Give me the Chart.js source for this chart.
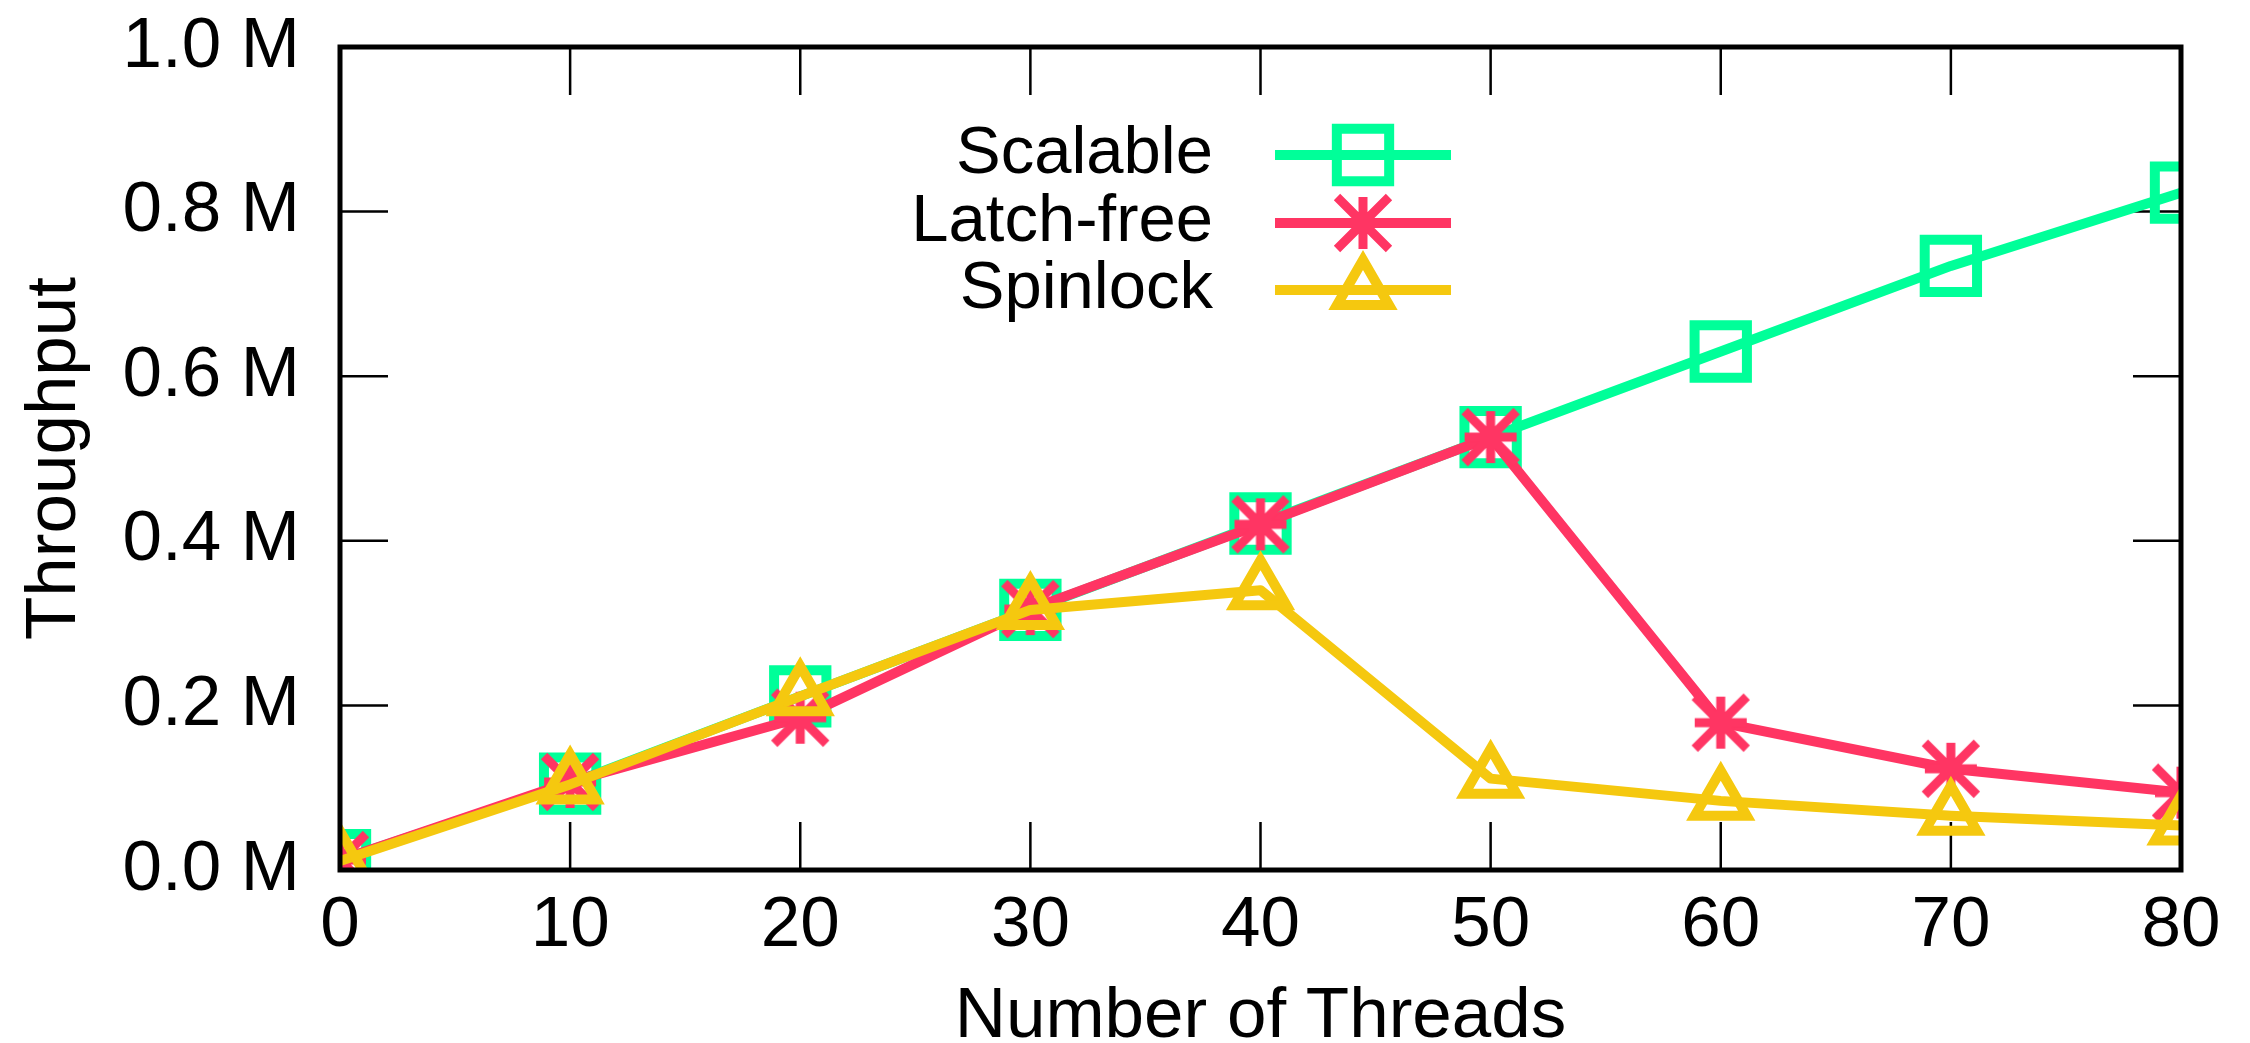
<!DOCTYPE html>
<html>
<head>
<meta charset="utf-8">
<title>Throughput vs threads</title>
<script src="https://cdn.jsdelivr.net/npm/chart.js@4.4.0/dist/chart.umd.min.js"></script>
<style>
  html, body { margin: 0; padding: 0; background: #fff; }
  canvas { display: block; }
</style>
</head>
<body>
<canvas id="throughputChart" width="2250" height="1043"></canvas>
<script>
const threads = [0, 10, 20, 30, 40, 50, 60, 70, 80];
const scalable = [0.012, 0.105, 0.211, 0.316, 0.421, 0.526, 0.630, 0.734, 0.823];
const latchFree = [0.012, 0.107, 0.185, 0.317, 0.420, 0.526, 0.179, 0.123, 0.094];
const spinlock = [0.011, 0.104, 0.211, 0.316, 0.340, 0.111, 0.084, 0.066, 0.054];

const xTicks = [0, 10, 20, 30, 40, 50, 60, 70, 80];
const yTicks = [0, 0.2, 0.4, 0.6, 0.8, 1.0];

const seriesNames = ['Scalable', 'Latch-free', 'Spinlock'];
const seriesColors = ['#00ff99', '#ff3563', '#f5c80f'];

const FONT = '"Liberation Sans", Arial, Helvetica, sans-serif';

// gnuplot style asterisk (+ and x on top of each other)
function makeAsterisk(color, half, lw) {
    const size = Math.ceil(2 * half + 2 * lw);
    const c = document.createElement('canvas');
    c.width = size;
    c.height = size;
    const g = c.getContext('2d');
    const m = size / 2;
    g.strokeStyle = color;
    g.lineWidth = lw;
    g.lineCap = 'butt';
    g.beginPath();
    g.moveTo(m, m - half); g.lineTo(m, m + half);
    g.moveTo(m - half, m); g.lineTo(m + half, m);
    g.moveTo(m - half, m - half); g.lineTo(m + half, m + half);
    g.moveTo(m - half, m + half); g.lineTo(m + half, m - half);
    g.stroke();
    return c;
}

const asterisk = makeAsterisk(seriesColors[1], 26, 9);

function toPoints(values) {
    return threads.map((t, i) => ({ x: t, y: values[i] }));
}

const frame = {
    id: 'frame',
    beforeDatasetsDraw(chart) {
        const { ctx, chartArea: a, scales } = chart;
        const len = 48;
        ctx.save();
        ctx.strokeStyle = '#000';
        ctx.lineWidth = 2.5;
        ctx.beginPath();
        scales.x.ticks.forEach(t => {
            const px = scales.x.getPixelForValue(t.value);
            ctx.moveTo(px, a.bottom); ctx.lineTo(px, a.bottom - len);
            ctx.moveTo(px, a.top); ctx.lineTo(px, a.top + len);
        });
        scales.y.ticks.forEach(t => {
            const py = scales.y.getPixelForValue(t.value);
            ctx.moveTo(a.left, py); ctx.lineTo(a.left + len, py);
            ctx.moveTo(a.right, py); ctx.lineTo(a.right - len, py);
        });
        ctx.stroke();
        ctx.restore();
    },
    afterDatasetsDraw(chart) {
        const { ctx, chartArea: a } = chart;
        ctx.save();
        ctx.strokeStyle = '#000';
        ctx.lineWidth = 5;
        ctx.strokeRect(a.left, a.top, a.right - a.left, a.bottom - a.top);
        ctx.restore();
    }
};

const keyBox = {
    id: 'keyBox',
    afterDraw(chart) {
        const { ctx } = chart;
        const textRight = 1213;
        const lineFrom = 1275;
        const lineTo = 1451;
        const rows = [155, 223, 290];
        ctx.save();
        chart.data.datasets.forEach((ds, i) => {
            const y = rows[i];
            ctx.fillStyle = '#000';
            ctx.font = '67px ' + FONT;
            ctx.textAlign = 'right';
            ctx.textBaseline = 'middle';
            ctx.fillText(ds.label, textRight, y);

            ctx.strokeStyle = ds.borderColor;
            ctx.lineWidth = ds.borderWidth;
            ctx.lineCap = 'butt';
            ctx.beginPath();
            ctx.moveTo(lineFrom, y);
            ctx.lineTo(lineTo, y);
            ctx.stroke();

            ctx.fillStyle = 'rgba(0,0,0,0)';
            ctx.lineWidth = ds.pointBorderWidth;
            ctx.lineJoin = 'miter';
            Chart.helpers.drawPoint(ctx, {
                pointStyle: ds.pointStyle,
                rotation: 0,
                radius: ds.pointRadius,
                borderWidth: ds.pointBorderWidth
            }, (lineFrom + lineTo) / 2, y);
        });
        ctx.restore();
    }
};

function lineSet(i, values, style, radius, order) {
    return {
        label: seriesNames[i],
        data: toPoints(values),
        borderColor: seriesColors[i],
        backgroundColor: seriesColors[i],
        borderWidth: 10,
        borderCapStyle: 'round',
        borderJoinStyle: 'round',
        pointStyle: style,
        pointRadius: radius,
        pointBorderWidth: i === 1 ? 9 : 10,
        pointBorderColor: seriesColors[i],
        pointBackgroundColor: 'rgba(0,0,0,0)',
        order: order,
        tension: 0
    };
}

new Chart(document.getElementById('throughputChart'), {
    type: 'line',
    data: {
        datasets: [
            lineSet(0, scalable, 'rect', 37, 3),
            lineSet(1, latchFree, asterisk, 30, 2),
            lineSet(2, spinlock, 'triangle', 30, 1)
        ]
    },
    options: {
        responsive: false,
        animation: false,
        devicePixelRatio: 1,
        layout: { padding: { top: 40, right: 69, bottom: 0, left: 0 } },
        plugins: {
            legend: { display: false },
            tooltip: { enabled: false }
        },
        scales: {
            x: {
                type: 'linear',
                min: 0,
                max: 80,
                afterBuildTicks: s => { s.ticks = xTicks.map(v => ({ value: v })); },
                afterFit: s => {
                    s.height = 173;
                    s.paddingLeft = 0;
                    s.paddingRight = 0;
                },
                grid: { display: false, drawTicks: false },
                border: { display: false },
                ticks: {
                    color: '#000',
                    padding: 21,
                    maxRotation: 0,
                    font: { family: FONT, size: 71, lineHeight: 1 }
                },
                title: {
                    display: true,
                    text: 'Number of Threads',
                    color: '#000',
                    padding: { top: 0, bottom: -3 },
                    font: { family: FONT, size: 71, lineHeight: 0.8 }
                }
            },
            y: {
                type: 'linear',
                min: 0,
                max: 1,
                afterBuildTicks: s => { s.ticks = yTicks.map(v => ({ value: v })); },
                afterFit: s => {
                    s.width = 340;
                    s.paddingTop = 0;
                    s.paddingBottom = 0;
                },
                grid: { display: false, drawTicks: false },
                border: { display: false },
                ticks: {
                    color: '#000',
                    padding: 40,
                    font: { family: FONT, size: 71, lineHeight: 1 },
                    callback: v => v.toFixed(1) + ' M'
                },
                title: {
                    display: true,
                    text: 'Throughput',
                    color: '#000',
                    padding: { top: 27, bottom: 0 },
                    font: { family: FONT, size: 71, lineHeight: 0.8 }
                }
            }
        }
    },
    plugins: [frame, keyBox]
});
</script>
</body>
</html>
